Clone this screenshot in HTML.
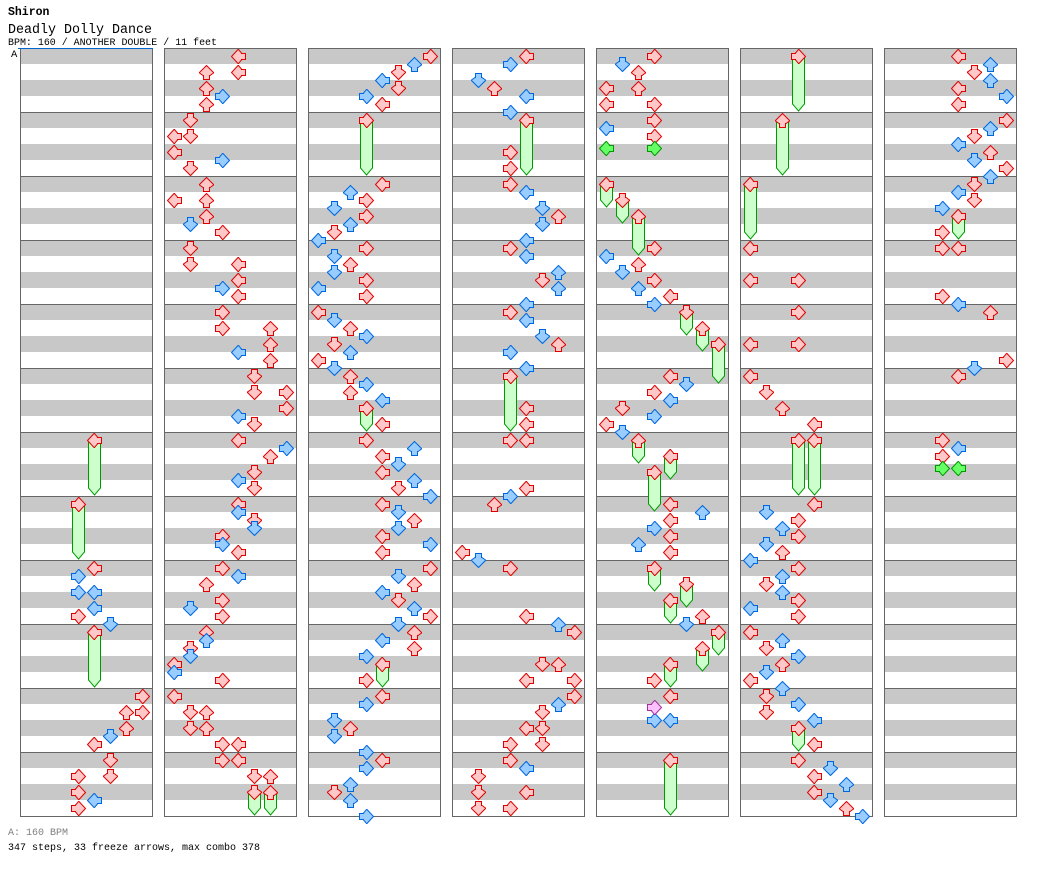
<!DOCTYPE html>
<html><head><meta charset="utf-8"><style>
html,body{margin:0;padding:0;background:#fff;}
svg{display:block;}
.r{fill:#ffc8c8;stroke:#e00000;stroke-width:1}
.b{fill:#99ccff;stroke:#0066dd;stroke-width:1}
.g{fill:#66ff66;stroke:#009900;stroke-width:1}
.p{fill:#ffc0ff;stroke:#a030a0;stroke-width:1}
.f polygon{fill:#ccffcc;stroke:#009900;stroke-width:1}
text{font-family:"Liberation Mono",monospace;}
</style></head><body>
<svg width="1040" height="876" viewBox="0 0 1040 876" xmlns="http://www.w3.org/2000/svg" xmlns:xlink="http://www.w3.org/1999/xlink">
<defs>
<pattern id="st" patternUnits="userSpaceOnUse" x="0" y="0" width="1040" height="32"><rect x="0" y="16" width="1040" height="16" fill="#c8c8c8" shape-rendering="crispEdges"/></pattern>
<polygon id="U" points="7.5,0.5 14.5,7.5 14.5,8 11,10.5 10.5,10.5 10.5,14.5 4.5,14.5 4.5,10.5 4,10.5 0.5,8 0.5,7.5"/>
<polygon id="R" points="14.5,7.5 8,14.5 7.5,14.5 4.5,11 4.5,10.5 0.5,10.5 0.5,4.5 4.5,4.5 4.5,4 7.5,0.5 8,0.5"/>
<polygon id="D" points="7.5,14.5 0.5,7.5 0.5,7 4,4.5 4.5,4.5 4.5,0.5 10.5,0.5 10.5,4.5 11,4.5 14.5,7 14.5,7.5"/>
<polygon id="L" points="0.5,7.5 7,0.5 7.5,0.5 10.5,4 10.5,4.5 14.5,4.5 14.5,10.5 10.5,10.5 10.5,11 7.5,14.5 7,14.5"/>
</defs>
<rect width="1040" height="876" fill="#fff"/>

<text x="8" y="15" font-size="11.5" font-weight="bold" fill="#000">Shiron</text>
<text x="8" y="33" font-size="13.5" fill="#000" textLength="144" lengthAdjust="spacingAndGlyphs">Deadly Dolly Dance</text>
<text x="8" y="45" font-size="10.5" fill="#000" textLength="209" lengthAdjust="spacingAndGlyphs">BPM: 160 / ANOTHER DOUBLE / 11 feet</text>
<text x="11" y="57" font-size="10.5" fill="#000">A</text>

<!-- column boxes -->
<g shape-rendering="crispEdges">
<rect x="21" y="49" width="131" height="767" fill="url(#st)"/>
<rect x="165" y="49" width="131" height="767" fill="url(#st)"/>
<rect x="309" y="49" width="131" height="767" fill="url(#st)"/>
<rect x="453" y="49" width="131" height="767" fill="url(#st)"/>
<rect x="597" y="49" width="131" height="767" fill="url(#st)"/>
<rect x="741" y="49" width="131" height="767" fill="url(#st)"/>
<rect x="885" y="49" width="131" height="767" fill="url(#st)"/>
<path fill="none" stroke="#666" stroke-width="1" d="
M20,112.5h133m-133,64h133m-133,64h133m-133,64h133m-133,64h133m-133,64h133m-133,64h133m-133,64h133m-133,64h133m-133,64h133m-133,64h133
M164,112.5h133m-133,64h133m-133,64h133m-133,64h133m-133,64h133m-133,64h133m-133,64h133m-133,64h133m-133,64h133m-133,64h133m-133,64h133
M308,112.5h133m-133,64h133m-133,64h133m-133,64h133m-133,64h133m-133,64h133m-133,64h133m-133,64h133m-133,64h133m-133,64h133m-133,64h133
M452,112.5h133m-133,64h133m-133,64h133m-133,64h133m-133,64h133m-133,64h133m-133,64h133m-133,64h133m-133,64h133m-133,64h133m-133,64h133
M596,112.5h133m-133,64h133m-133,64h133m-133,64h133m-133,64h133m-133,64h133m-133,64h133m-133,64h133m-133,64h133m-133,64h133m-133,64h133
M740,112.5h133m-133,64h133m-133,64h133m-133,64h133m-133,64h133m-133,64h133m-133,64h133m-133,64h133m-133,64h133m-133,64h133m-133,64h133
M884,112.5h133m-133,64h133m-133,64h133m-133,64h133m-133,64h133m-133,64h133m-133,64h133m-133,64h133m-133,64h133m-133,64h133m-133,64h133"/>
<rect x="20.5" y="48.5" width="132" height="768" fill="none" stroke="#666"/>
<rect x="164.5" y="48.5" width="132" height="768" fill="none" stroke="#666"/>
<rect x="308.5" y="48.5" width="132" height="768" fill="none" stroke="#666"/>
<rect x="452.5" y="48.5" width="132" height="768" fill="none" stroke="#666"/>
<rect x="596.5" y="48.5" width="132" height="768" fill="none" stroke="#666"/>
<rect x="740.5" y="48.5" width="132" height="768" fill="none" stroke="#666"/>
<rect x="884.5" y="48.5" width="132" height="768" fill="none" stroke="#666"/>
<line x1="18" y1="48.5" x2="153" y2="48.5" stroke="#0066cc" stroke-width="1"/>
</g>

<!-- Column 1 -->
<g transform="translate(20,49)">
<g class="f">
<polygon points="68.5,391 80.5,391 80.5,439 74.5,446 68.5,439"/>
<polygon points="52.5,455 64.5,455 64.5,503 58.5,510 52.5,503"/>
<polygon points="68.5,583 80.5,583 80.5,631 74.5,638 68.5,631"/>
</g>
<g class="r">
<use href="#L" x="67" y="384"/><use href="#R" x="51" y="448"/><use href="#L" x="67" y="512"/><use href="#R" x="51" y="560"/>
<use href="#L" x="67" y="576"/><use href="#R" x="115" y="640"/><use href="#R" x="115" y="656"/><use href="#U" x="99" y="656"/>
<use href="#U" x="99" y="672"/><use href="#L" x="67" y="688"/><use href="#D" x="83" y="704"/><use href="#R" x="51" y="720"/>
<use href="#D" x="83" y="720"/><use href="#R" x="51" y="736"/><use href="#R" x="51" y="752"/>
</g>
<g class="b">
<use href="#R" x="51" y="520"/><use href="#R" x="51" y="536"/><use href="#L" x="67" y="536"/><use href="#L" x="67" y="552"/>
<use href="#D" x="83" y="568"/><use href="#D" x="83" y="680"/><use href="#L" x="67" y="744"/>
</g>
</g>

<!-- Column 2 -->
<g transform="translate(164,49)">
<g class="f">
<polygon points="84.5,743 96.5,743 96.5,759 90.5,766 84.5,759"/>
<polygon points="100.5,743 112.5,743 112.5,759 106.5,766 100.5,759"/>
</g>
<g class="r">
<use href="#L" x="67" y="0"/><use href="#L" x="67" y="16"/><use href="#U" x="35" y="16"/><use href="#U" x="35" y="32"/><use href="#U" x="35" y="48"/>
<use href="#D" x="19" y="64"/><use href="#L" x="3" y="80"/><use href="#D" x="19" y="80"/><use href="#L" x="3" y="96"/><use href="#D" x="19" y="112"/>
<use href="#U" x="35" y="128"/><use href="#L" x="3" y="144"/><use href="#U" x="35" y="144"/><use href="#U" x="35" y="160"/><use href="#R" x="51" y="176"/>
<use href="#D" x="19" y="192"/><use href="#D" x="19" y="208"/><use href="#L" x="67" y="208"/><use href="#L" x="67" y="224"/><use href="#L" x="67" y="240"/>
<use href="#R" x="51" y="256"/><use href="#R" x="51" y="272"/><use href="#U" x="99" y="272"/><use href="#U" x="99" y="288"/><use href="#U" x="99" y="304"/>
<use href="#D" x="83" y="320"/><use href="#D" x="83" y="336"/><use href="#R" x="115" y="336"/><use href="#R" x="115" y="352"/><use href="#D" x="83" y="368"/>
<use href="#L" x="67" y="384"/><use href="#U" x="99" y="400"/><use href="#D" x="83" y="416"/><use href="#D" x="83" y="432"/>
<use href="#L" x="67" y="448"/><use href="#D" x="83" y="464"/><use href="#R" x="51" y="480"/><use href="#L" x="67" y="496"/>
<use href="#R" x="51" y="512"/><use href="#U" x="35" y="528"/><use href="#R" x="51" y="544"/><use href="#R" x="51" y="560"/>
<use href="#U" x="35" y="576"/><use href="#D" x="19" y="592"/><use href="#L" x="3" y="608"/><use href="#R" x="51" y="624"/>
<use href="#L" x="3" y="640"/><use href="#D" x="19" y="656"/><use href="#U" x="35" y="656"/><use href="#D" x="19" y="672"/><use href="#U" x="35" y="672"/>
<use href="#R" x="51" y="688"/><use href="#L" x="67" y="688"/><use href="#R" x="51" y="704"/><use href="#L" x="67" y="704"/>
<use href="#D" x="83" y="720"/><use href="#U" x="99" y="720"/><use href="#D" x="83" y="736"/><use href="#U" x="99" y="736"/>
</g>
<g class="b">
<use href="#R" x="51" y="40"/><use href="#R" x="51" y="104"/><use href="#D" x="19" y="168"/><use href="#R" x="51" y="232"/>
<use href="#L" x="67" y="296"/><use href="#L" x="67" y="360"/><use href="#R" x="115" y="392"/><use href="#L" x="67" y="424"/>
<use href="#L" x="67" y="456"/><use href="#D" x="83" y="472"/><use href="#R" x="51" y="488"/><use href="#L" x="67" y="520"/>
<use href="#D" x="19" y="552"/><use href="#U" x="35" y="584"/><use href="#D" x="19" y="600"/><use href="#L" x="3" y="616"/>
</g>
</g>

<!-- Column 3 -->
<g transform="translate(308,49)">
<g class="f">
<polygon points="52.5,71 64.5,71 64.5,119 58.5,126 52.5,119"/>
<polygon points="52.5,359 64.5,359 64.5,375 58.5,382 52.5,375"/>
<polygon points="68.5,615 80.5,615 80.5,631 74.5,638 68.5,631"/>
</g>
<g class="r">
<use href="#R" x="115" y="0"/><use href="#D" x="83" y="16"/><use href="#D" x="83" y="32"/><use href="#L" x="67" y="48"/><use href="#R" x="51" y="64"/>
<use href="#L" x="67" y="128"/><use href="#R" x="51" y="144"/><use href="#R" x="51" y="160"/><use href="#D" x="19" y="176"/>
<use href="#R" x="51" y="192"/><use href="#U" x="35" y="208"/><use href="#R" x="51" y="224"/><use href="#R" x="51" y="240"/>
<use href="#L" x="3" y="256"/><use href="#U" x="35" y="272"/><use href="#D" x="19" y="288"/><use href="#L" x="3" y="304"/>
<use href="#U" x="35" y="320"/><use href="#U" x="35" y="336"/><use href="#R" x="51" y="352"/><use href="#L" x="67" y="368"/>
<use href="#R" x="51" y="384"/><use href="#L" x="67" y="400"/><use href="#L" x="67" y="416"/><use href="#D" x="83" y="432"/>
<use href="#L" x="67" y="448"/><use href="#U" x="99" y="464"/><use href="#L" x="67" y="480"/><use href="#L" x="67" y="496"/>
<use href="#R" x="115" y="512"/><use href="#U" x="99" y="528"/><use href="#D" x="83" y="544"/><use href="#R" x="115" y="560"/>
<use href="#U" x="99" y="576"/><use href="#U" x="99" y="592"/><use href="#L" x="67" y="608"/><use href="#R" x="51" y="624"/>
<use href="#L" x="67" y="640"/><use href="#U" x="35" y="672"/><use href="#L" x="67" y="704"/><use href="#D" x="19" y="736"/>
</g>
<g class="b">
<use href="#U" x="99" y="8"/><use href="#L" x="67" y="24"/><use href="#R" x="51" y="40"/>
<use href="#U" x="35" y="136"/><use href="#D" x="19" y="152"/><use href="#U" x="35" y="168"/><use href="#L" x="3" y="184"/>
<use href="#D" x="19" y="200"/><use href="#D" x="19" y="216"/><use href="#L" x="3" y="232"/>
<use href="#D" x="19" y="264"/><use href="#R" x="51" y="280"/><use href="#U" x="35" y="296"/><use href="#D" x="19" y="312"/>
<use href="#R" x="51" y="328"/><use href="#L" x="67" y="344"/>
<use href="#U" x="99" y="392"/><use href="#D" x="83" y="408"/><use href="#U" x="99" y="424"/><use href="#R" x="115" y="440"/>
<use href="#D" x="83" y="456"/><use href="#D" x="83" y="472"/><use href="#R" x="115" y="488"/>
<use href="#D" x="83" y="520"/><use href="#L" x="67" y="536"/><use href="#U" x="99" y="552"/><use href="#D" x="83" y="568"/>
<use href="#L" x="67" y="584"/><use href="#R" x="51" y="600"/>
<use href="#R" x="51" y="648"/><use href="#D" x="19" y="664"/><use href="#D" x="19" y="680"/><use href="#R" x="51" y="696"/>
<use href="#R" x="51" y="712"/><use href="#U" x="35" y="728"/><use href="#U" x="35" y="744"/><use href="#R" x="51" y="760"/>
</g>
</g>

<!-- Column 4 -->
<g transform="translate(452,49)">
<g class="f">
<polygon points="68.5,71 80.5,71 80.5,119 74.5,126 68.5,119"/>
<polygon points="52.5,327 64.5,327 64.5,375 58.5,382 52.5,375"/>
</g>
<g class="r">
<use href="#L" x="67" y="0"/><use href="#U" x="35" y="32"/><use href="#L" x="67" y="64"/><use href="#R" x="51" y="96"/><use href="#R" x="51" y="112"/>
<use href="#R" x="51" y="128"/><use href="#U" x="99" y="160"/><use href="#R" x="51" y="192"/><use href="#D" x="83" y="224"/>
<use href="#R" x="51" y="256"/><use href="#U" x="99" y="288"/><use href="#R" x="51" y="320"/><use href="#L" x="67" y="352"/><use href="#L" x="67" y="368"/>
<use href="#R" x="51" y="384"/><use href="#L" x="67" y="384"/><use href="#L" x="67" y="432"/><use href="#U" x="35" y="448"/><use href="#L" x="3" y="496"/>
<use href="#R" x="51" y="512"/><use href="#L" x="67" y="560"/><use href="#R" x="115" y="576"/><use href="#D" x="83" y="608"/><use href="#U" x="99" y="608"/>
<use href="#L" x="67" y="624"/><use href="#R" x="115" y="624"/><use href="#R" x="115" y="640"/><use href="#D" x="83" y="656"/>
<use href="#L" x="67" y="672"/><use href="#D" x="83" y="672"/><use href="#R" x="51" y="688"/><use href="#D" x="83" y="688"/>
<use href="#R" x="51" y="704"/><use href="#D" x="19" y="720"/><use href="#D" x="19" y="736"/><use href="#L" x="67" y="736"/>
<use href="#D" x="19" y="752"/><use href="#R" x="51" y="752"/>
</g>
<g class="b">
<use href="#R" x="51" y="8"/><use href="#D" x="19" y="24"/><use href="#L" x="67" y="40"/><use href="#R" x="51" y="56"/>
<use href="#L" x="67" y="136"/><use href="#D" x="83" y="152"/><use href="#D" x="83" y="168"/><use href="#L" x="67" y="184"/>
<use href="#L" x="67" y="200"/><use href="#U" x="99" y="216"/><use href="#U" x="99" y="232"/><use href="#L" x="67" y="248"/>
<use href="#L" x="67" y="264"/><use href="#D" x="83" y="280"/><use href="#R" x="51" y="296"/><use href="#L" x="67" y="312"/>
<use href="#R" x="51" y="440"/><use href="#D" x="19" y="504"/><use href="#U" x="99" y="568"/><use href="#U" x="99" y="648"/><use href="#L" x="67" y="712"/>
</g>
</g>

<!-- Column 5 -->
<g transform="translate(596,49)">
<g class="f">
<polygon points="4.5,135 16.5,135 16.5,151 10.5,158 4.5,151"/>
<polygon points="20.5,151 32.5,151 32.5,167 26.5,174 20.5,167"/>
<polygon points="36.5,167 48.5,167 48.5,199 42.5,206 36.5,199"/>
<polygon points="84.5,263 96.5,263 96.5,279 90.5,286 84.5,279"/>
<polygon points="100.5,279 112.5,279 112.5,295 106.5,302 100.5,295"/>
<polygon points="116.5,295 128.5,295 128.5,327 122.5,334 116.5,327"/>
<polygon points="36.5,391 48.5,391 48.5,407 42.5,414 36.5,407"/>
<polygon points="68.5,407 80.5,407 80.5,423 74.5,430 68.5,423"/>
<polygon points="52.5,423 64.5,423 64.5,455 58.5,462 52.5,455"/>
<polygon points="52.5,519 64.5,519 64.5,535 58.5,542 52.5,535"/>
<polygon points="84.5,535 96.5,535 96.5,551 90.5,558 84.5,551"/>
<polygon points="68.5,551 80.5,551 80.5,567 74.5,574 68.5,567"/>
<polygon points="116.5,583 128.5,583 128.5,599 122.5,606 116.5,599"/>
<polygon points="100.5,599 112.5,599 112.5,615 106.5,622 100.5,615"/>
<polygon points="68.5,615 80.5,615 80.5,631 74.5,638 68.5,631"/>
<polygon points="68.5,711 80.5,711 80.5,759 74.5,766 68.5,759"/>
</g>
<g class="r">
<use href="#R" x="51" y="0"/><use href="#U" x="35" y="16"/><use href="#L" x="3" y="32"/><use href="#U" x="35" y="32"/><use href="#L" x="3" y="48"/><use href="#R" x="51" y="48"/>
<use href="#R" x="51" y="64"/><use href="#R" x="51" y="80"/>
<use href="#L" x="3" y="128"/><use href="#D" x="19" y="144"/><use href="#U" x="35" y="160"/>
<use href="#R" x="51" y="192"/><use href="#U" x="35" y="208"/><use href="#R" x="51" y="224"/><use href="#L" x="67" y="240"/>
<use href="#D" x="83" y="256"/><use href="#U" x="99" y="272"/><use href="#R" x="115" y="288"/>
<use href="#L" x="67" y="320"/><use href="#R" x="51" y="336"/><use href="#D" x="19" y="352"/><use href="#L" x="3" y="368"/>
<use href="#U" x="35" y="384"/><use href="#L" x="67" y="400"/><use href="#R" x="51" y="416"/>
<use href="#L" x="67" y="448"/><use href="#L" x="67" y="464"/><use href="#L" x="67" y="480"/><use href="#L" x="67" y="496"/>
<use href="#R" x="51" y="512"/><use href="#D" x="83" y="528"/><use href="#L" x="67" y="544"/><use href="#U" x="99" y="560"/>
<use href="#R" x="115" y="576"/><use href="#U" x="99" y="592"/><use href="#L" x="67" y="608"/><use href="#R" x="51" y="624"/>
<use href="#L" x="67" y="640"/><use href="#L" x="67" y="704"/>
</g>
<g class="b">
<use href="#D" x="19" y="8"/><use href="#L" x="3" y="72"/><use href="#L" x="3" y="200"/><use href="#D" x="19" y="216"/>
<use href="#U" x="35" y="232"/><use href="#R" x="51" y="248"/><use href="#D" x="83" y="328"/><use href="#L" x="67" y="344"/>
<use href="#R" x="51" y="360"/><use href="#D" x="19" y="376"/><use href="#U" x="99" y="456"/><use href="#R" x="51" y="472"/>
<use href="#U" x="35" y="488"/><use href="#D" x="83" y="568"/><use href="#R" x="51" y="664"/><use href="#L" x="67" y="664"/>
</g>
<g class="g"><use href="#L" x="3" y="92"/><use href="#R" x="51" y="92"/></g>
<g class="p"><use href="#R" x="51" y="651"/></g>
</g>

<!-- Column 6 -->
<g transform="translate(740,49)">
<g class="f">
<polygon points="52.5,7 64.5,7 64.5,55 58.5,62 52.5,55"/>
<polygon points="36.5,71 48.5,71 48.5,119 42.5,126 36.5,119"/>
<polygon points="4.5,135 16.5,135 16.5,183 10.5,190 4.5,183"/>
<polygon points="52.5,391 64.5,391 64.5,439 58.5,446 52.5,439"/>
<polygon points="68.5,391 80.5,391 80.5,439 74.5,446 68.5,439"/>
<polygon points="52.5,679 64.5,679 64.5,695 58.5,702 52.5,695"/>
</g>
<g class="r">
<use href="#R" x="51" y="0"/><use href="#U" x="35" y="64"/><use href="#L" x="3" y="128"/>
<use href="#L" x="3" y="192"/><use href="#L" x="3" y="224"/><use href="#R" x="51" y="224"/>
<use href="#R" x="51" y="256"/><use href="#L" x="3" y="288"/><use href="#R" x="51" y="288"/>
<use href="#L" x="3" y="320"/><use href="#D" x="19" y="336"/><use href="#U" x="35" y="352"/><use href="#L" x="67" y="368"/>
<use href="#R" x="51" y="384"/><use href="#L" x="67" y="384"/>
<use href="#L" x="67" y="448"/><use href="#R" x="51" y="464"/><use href="#R" x="51" y="480"/><use href="#U" x="35" y="496"/>
<use href="#R" x="51" y="512"/><use href="#D" x="19" y="528"/><use href="#R" x="51" y="544"/><use href="#R" x="51" y="560"/>
<use href="#L" x="3" y="576"/><use href="#D" x="19" y="592"/><use href="#U" x="35" y="608"/><use href="#L" x="3" y="624"/>
<use href="#D" x="19" y="640"/><use href="#D" x="19" y="656"/><use href="#R" x="51" y="672"/><use href="#L" x="67" y="688"/>
<use href="#R" x="51" y="704"/><use href="#L" x="67" y="720"/><use href="#L" x="67" y="736"/><use href="#U" x="99" y="752"/>
</g>
<g class="b">
<use href="#D" x="19" y="456"/><use href="#U" x="35" y="472"/><use href="#D" x="19" y="488"/><use href="#L" x="3" y="504"/>
<use href="#U" x="35" y="520"/><use href="#U" x="35" y="536"/><use href="#L" x="3" y="552"/>
<use href="#U" x="35" y="584"/><use href="#R" x="51" y="600"/><use href="#D" x="19" y="616"/><use href="#U" x="35" y="632"/>
<use href="#R" x="51" y="648"/><use href="#L" x="67" y="664"/>
<use href="#D" x="83" y="712"/><use href="#U" x="99" y="728"/><use href="#D" x="83" y="744"/><use href="#R" x="115" y="760"/>
</g>
</g>

<!-- Column 7 -->
<g transform="translate(884,49)">
<g class="f">
<polygon points="68.5,167 80.5,167 80.5,183 74.5,190 68.5,183"/>
</g>
<g class="r">
<use href="#L" x="67" y="0"/><use href="#D" x="83" y="16"/><use href="#L" x="67" y="32"/><use href="#L" x="67" y="48"/>
<use href="#R" x="115" y="64"/><use href="#D" x="83" y="80"/><use href="#U" x="99" y="96"/><use href="#R" x="115" y="112"/>
<use href="#D" x="83" y="128"/><use href="#D" x="83" y="144"/><use href="#L" x="67" y="160"/><use href="#R" x="51" y="176"/>
<use href="#R" x="51" y="192"/><use href="#L" x="67" y="192"/><use href="#R" x="51" y="240"/>
<use href="#U" x="99" y="256"/><use href="#R" x="115" y="304"/><use href="#L" x="67" y="320"/>
<use href="#R" x="51" y="384"/><use href="#R" x="51" y="400"/>
</g>
<g class="b">
<use href="#U" x="99" y="8"/><use href="#U" x="99" y="24"/><use href="#R" x="115" y="40"/>
<use href="#U" x="99" y="72"/><use href="#L" x="67" y="88"/><use href="#D" x="83" y="104"/><use href="#U" x="99" y="120"/>
<use href="#L" x="67" y="136"/><use href="#R" x="51" y="152"/><use href="#L" x="67" y="248"/><use href="#D" x="83" y="312"/>
<use href="#L" x="67" y="392"/>
</g>
<g class="g"><use href="#R" x="51" y="412"/><use href="#L" x="67" y="412"/></g>
</g>

<text x="8" y="835" font-size="10.5" fill="#808080" textLength="60" lengthAdjust="spacingAndGlyphs">A: 160 BPM</text>
<text x="8" y="850" font-size="10.5" fill="#000" textLength="252" lengthAdjust="spacingAndGlyphs">347 steps, 33 freeze arrows, max combo 378</text>
</svg>
</body></html>
